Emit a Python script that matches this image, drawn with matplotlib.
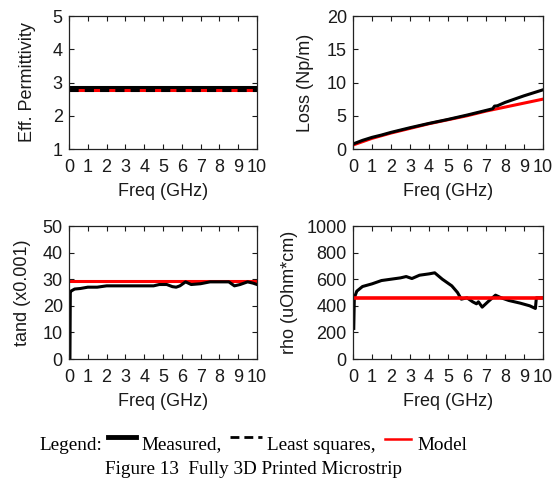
import matplotlib
matplotlib.use("Agg")
import matplotlib.pyplot as plt
from matplotlib.lines import Line2D

plt.rcParams['font.family'] = ['Liberation Sans', 'DejaVu Sans']

# ---- data ----
freq_ticks = list(range(0, 11))

perm_f = [0, 10]
perm_measured = [2.85, 2.85]
perm_ls = [2.76, 2.76]
perm_model = [2.76, 2.76]

loss_f = [0, 0.5, 1, 1.5, 2, 3, 4, 5, 6, 7, 7.35, 7.45, 7.6, 8, 9, 10]
loss_measured = [0.75, 1.3, 1.75, 2.1, 2.5, 3.2, 3.85, 4.45, 5.1, 5.8, 6.05, 6.45, 6.5, 7.0, 8.0, 8.9]
loss_model_f = [0, 1, 2, 3, 4, 5, 6, 7, 8, 9, 10]
loss_model = [0.6, 1.6, 2.4, 3.1, 3.8, 4.4, 5.0, 5.7, 6.3, 6.9, 7.5]

tand_f = [0.05, 0.07, 0.1, 0.3, 0.6, 1.0, 1.5, 2.0, 3.0, 4.0, 4.5, 4.8, 5.2, 5.5, 5.7, 5.9, 6.2, 6.5, 7.0,
          7.5, 8.0, 8.5, 8.8, 9.1, 9.5, 9.8, 10]
tand_measured = [0, 25, 25.5, 26.3, 26.5, 27, 27, 27.5, 27.5, 27.5, 27.5, 28, 28, 27.2, 27, 27.5, 29, 28,
                 28.3, 29, 29, 29, 27.5, 28, 29, 28.5, 28]
tand_model = [29.5, 29.5]

rho_f = [0.04, 0.07, 0.2, 0.5, 1.0, 1.5, 2.0, 2.5, 2.8, 3.1, 3.5, 4.0, 4.3, 4.7, 5.2, 5.5, 5.7, 6.0, 6.3,
         6.5, 6.6, 6.8, 7.1, 7.5, 7.8, 8.2, 8.8, 9.3, 9.6, 9.65, 10]
rho_measured = [230, 460, 510, 545, 565, 590, 600, 610, 620, 605, 630, 640, 648, 600, 550, 500, 450, 460,
                430, 415, 430, 390, 430, 480, 460, 440, 420, 400, 380, 460, 460]
rho_model = [460, 460]

# ---- figure ----
fig = plt.figure(figsize=(5.55, 4.78), dpi=100)

W, H = 555, 478
def axes_px(x0, y0, x1, y1):
    return fig.add_axes([x0 / W, 1 - y1 / H, (x1 - x0) / W, (y1 - y0) / H])

ax1 = axes_px(69, 16, 257, 149)
ax2 = axes_px(353, 16, 543, 149)
ax3 = axes_px(69, 226, 257, 359)
ax4 = axes_px(353, 226, 543, 359)

FS = 13
BLACK_LW = 2.2
RED_LW = 2.2
TXT = '#1a1a1a'

def style(ax, ylim, yticks, ylabel, ylab_x_px, left_px, width_px):
    ax.set_xlim(0, 10)
    ax.set_ylim(*ylim)
    ax.set_xticks(freq_ticks)
    ax.set_xticklabels([str(t) for t in freq_ticks])
    ax.set_yticks(yticks)
    ax.tick_params(direction='in', length=3.5, width=0.8, top=True, right=True,
                   labelsize=FS, colors=TXT)
    ax.tick_params(axis='x', pad=7)
    ax.tick_params(axis='y', pad=4.5)
    for s in ax.spines.values():
        s.set_linewidth(0.9)
        s.set_color('#222222')
    ax.set_xlabel('Freq (GHz)', fontsize=FS, color=TXT)
    ax.xaxis.set_label_coords(0.5, -42 / 133)
    ax.xaxis.label.set_verticalalignment('center')
    ax.set_ylabel(ylabel, fontsize=FS, color=TXT)
    ax.yaxis.set_label_coords((ylab_x_px - left_px) / width_px, 0.5)
    ax.yaxis.label.set_verticalalignment('center')

ax1.plot(perm_f, perm_measured, color='black', lw=BLACK_LW)
ax1.plot(perm_f, perm_model, color='red', lw=RED_LW)
ax1.plot(perm_f, perm_ls, color='black', lw=BLACK_LW, ls=(0, (3, 2)))
style(ax1, (1, 5), [1, 2, 3, 4, 5], 'Eff. Permittivity', 28, 69, 188)

ax2.plot(loss_model_f, loss_model, color='red', lw=RED_LW)
ax2.plot(loss_f, loss_measured, color='black', lw=BLACK_LW)
style(ax2, (0, 20), [0, 5, 10, 15, 20], 'Loss (Np/m)', 305, 353, 190)

ax3.plot([0, 10], tand_model, color='red', lw=RED_LW)
ax3.plot(tand_f, tand_measured, color='black', lw=BLACK_LW)
style(ax3, (0, 50), [0, 10, 20, 30, 40, 50], 'tand (x0.001)', 23, 69, 188)

ax4.plot(rho_f, rho_measured, color='black', lw=BLACK_LW)
ax4.plot([0, 10], rho_model, color='red', lw=RED_LW + 0.4)
style(ax4, (0, 1000), [0, 200, 400, 600, 800, 1000], 'rho (uOhm*cm)', 289, 353, 190)

# ---- caption / legend ----
serif = ['Liberation Serif', 'DejaVu Serif']
CFS = 13.8
ty = 1 - 445 / H
fig.text(39 / W, ty, 'Legend:', family=serif, fontsize=CFS, va='center', ha='left')
fig.add_artist(Line2D([108 / W, 136 / W], [1 - 437 / H] * 2, color='black', lw=3.5))
fig.text(141 / W, ty, 'Measured,', family=serif, fontsize=CFS, va='center', ha='left')
fig.add_artist(Line2D([230 / W, 262 / W], [1 - 437 / H] * 2, color='black', lw=2.0, ls=(0, (3.2, 1.8))))
fig.text(267 / W, ty, 'Least squares,', family=serif, fontsize=CFS, va='center', ha='left')
fig.add_artist(Line2D([385 / W, 411 / W], [1 - 439 / H] * 2, color='red', lw=1.8))
fig.text(417 / W, ty, 'Model', family=serif, fontsize=CFS, va='center', ha='left')
fig.text(0.5 * (99 + 408) / W, 1 - 470 / H, 'Figure 13  Fully 3D Printed Microstrip', family=serif,
         fontsize=CFS, va='center', ha='center')

fig.savefig('out.png', dpi=100)
